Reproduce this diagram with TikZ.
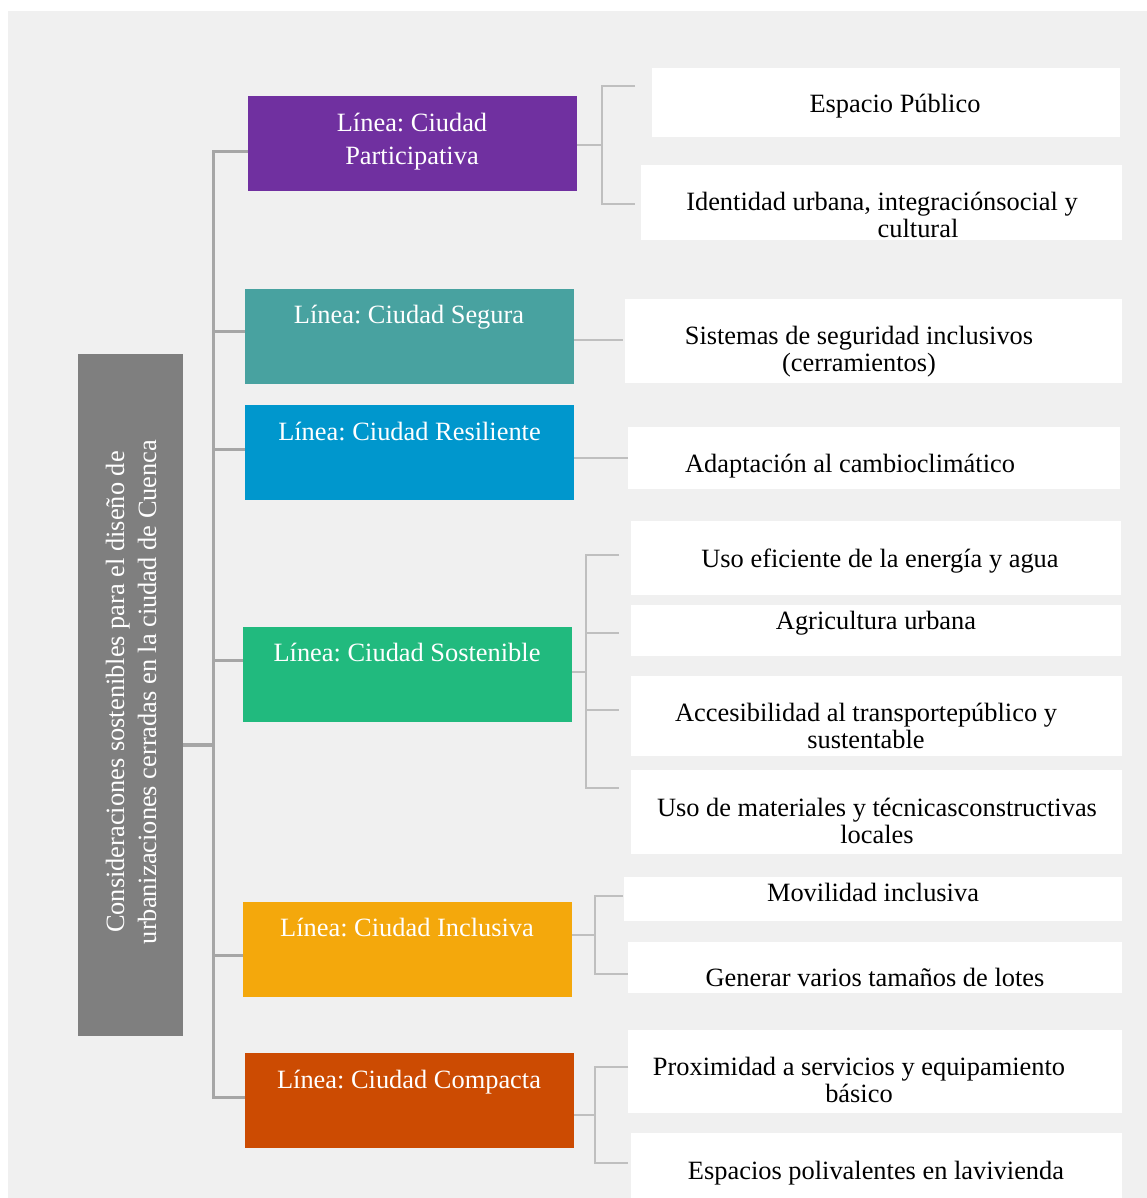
\documentclass[tikz,border=0pt]{standalone}
\usepackage{fontspec}
\setmainfont{Liberation Serif}
\usetikzlibrary{positioning}
\frenchspacing
\definecolor{bgGray}{HTML}{F0F0F0}
\definecolor{rootGray}{HTML}{7F7F7F}
\definecolor{cPart}{HTML}{7030A0}
\definecolor{cSeg}{HTML}{48A2A0}
\definecolor{cRes}{HTML}{0097CD}
\definecolor{cSost}{HTML}{21BA7E}
\definecolor{cIncl}{HTML}{F4A80C}
\definecolor{cComp}{HTML}{CC4B02}
\definecolor{lineDark}{HTML}{A6A6A6}
\definecolor{lineLight}{HTML}{BFBFBF}
\tikzset{
branch/.style={fill=#1, inner sep=0pt, minimum width=329pt, minimum height=95pt},
leaf/.style 2 args={fill=white, inner sep=0pt, minimum width=#1, minimum height=#2},
btxt/.style={text=white, align=center, inner sep=0pt, font=\fontsize{26.4}{33}\selectfont},
ltxt/.style={text=black, align=center, inner sep=0pt, font=\fontsize{26.4}{27}\selectfont},
trunk/.style={draw=lineDark, line width=3pt},
twig/.style={draw=lineLight, line width=2.5pt},
rootln/.style={draw=lineDark, line width=4pt}
}
\begin{document}
\begin{tikzpicture}[x=1pt,y=-1pt]
\useasboundingbox (0,0) rectangle (1147,1198);
\fill[bgGray] (8,11) rectangle (1147,1198);

\node[fill=rootGray, inner sep=0pt, minimum width=105pt, minimum height=682pt] (root) at (130.5,695) {};
\node[rotate=90, text=white, align=center, inner sep=0pt, font=\fontsize{26.4}{32}\selectfont] (rootT) at (131,692)
  {Consideraciones sostenibles para el diseño de\\urbanizaciones cerradas en la ciudad de Cuenca};

\node[branch=cPart] (part) at (412.5,144) {};
\node[branch=cSeg] (seg) at (409.5,336.5) {};
\node[branch=cRes] (res) at (409.5,452.5) {};
\node[branch=cSost] (sost) at (407.5,674.5) {};
\node[branch=cIncl] (incl) at (407.5,949.5) {};
\node[branch=cComp] (comp) at (409.5,1100.5) {};
\node[btxt] (partT) at (412,142) {Línea: Ciudad\\Participativa};
\node[btxt] (segT) at (409,317) {Línea: Ciudad Segura};
\node[btxt] (resT) at (409.5,432) {Línea: Ciudad Resiliente};
\node[btxt] (sostT) at (407,653) {Línea: Ciudad Sostenible};
\node[btxt] (inclT) at (407,927) {Línea: Ciudad Inclusiva};
\node[btxt] (compT) at (409,1082) {Línea: Ciudad Compacta};

\node[leaf={468pt}{69pt}] (esp) at (886,102.5) {};
\node[leaf={481pt}{75pt}] (ident) at (881.5,202.5) {};
\node[leaf={497pt}{84pt}] (sist) at (873.5,341) {};
\node[leaf={492pt}{62pt}] (adapt) at (874,458) {};
\node[leaf={490pt}{74pt}] (uso) at (876,558) {};
\node[leaf={490pt}{51pt}] (agri) at (876,630.5) {};
\node[leaf={491pt}{80pt}] (acces) at (876.5,716) {};
\node[leaf={491pt}{84pt}] (mater) at (876.5,812) {};
\node[leaf={498pt}{44pt}] (movil) at (873,899) {};
\node[leaf={494pt}{51pt}] (gener) at (875,967.5) {};
\node[leaf={494pt}{83pt}] (proxi) at (875,1071.5) {};
\node[leaf={491pt}{65pt}] (espac) at (876.5,1165.5) {};

\node[ltxt] (espT) at (895,106) {Espacio Público};
\node[ltxt] (identT) at (882,215) {Identidad urbana, integraciónsocial y\\\hspace*{72pt}cultural};
\node[ltxt] (sistT) at (859,352) {Sistemas de seguridad inclusivos\\(cerramientos)};
\node[ltxt] (adaptT) at (850,466) {Adaptación al cambioclimático};
\node[ltxt] (usoT) at (880,561) {Uso eficiente de la energía y agua};
\node[ltxt] (agriT) at (876,623) {Agricultura urbana};
\node[ltxt] (accesT) at (866,726) {Accesibilidad al transportepúblico y\\sustentable};
\node[ltxt] (materT) at (877,821) {Uso de materiales y técnicasconstructivas\\locales};
\node[ltxt] (movilT) at (873,892) {Movilidad inclusiva};
\node[ltxt] (generT) at (875,977) {Generar varios tamaños de lotes};
\node[ltxt] (proxiT) at (859,1080) {Proximidad a servicios y equipamiento\\básico};
\node[ltxt] (espacT) at (876,1173) {Espacios polivalentes en lavivienda};

\coordinate (j1) at (213,152);
\coordinate (j2) at (213,331);
\coordinate (j3) at (213,449);
\coordinate (j4) at (213,660);
\coordinate (j5) at (213,955);
\coordinate (j6) at (213,1097);
\coordinate (jr) at (213,745);
\draw[trunk] (part.west |- j1) -- (j1) -- (j6) -- (comp.west |- j6);
\foreach \n/\j in {seg/j2,res/j3,sost/j4,incl/j5}
  \draw[trunk] (\j) -- (\n.west |- \j);
\draw[rootln] (root.east |- jr) -- (jr);

\coordinate (pb) at (602,145);
\coordinate (ps1) at (635,86);
\coordinate (ps2) at (635,204);
\draw[twig] (part.east |- pb) -- (pb);
\draw[twig] (ps1) -- (ps1 -| pb) -- (ps2 -| pb) -- (ps2);

\coordinate (sj) at (623,340);
\draw[twig] (seg.east |- sj) -- (sj);
\coordinate (rj) at (628,458);
\draw[twig] (res.east |- rj) -- (rj);

\coordinate (sb) at (586,672);
\draw[twig] (sost.east |- sb) -- (sb);
\foreach \y [count=\i] in {555,633,710,788}
  \coordinate (ss\i) at (619,\y);
\draw[twig] (ss1) -- (ss1 -| sb) -- (ss4 -| sb) -- (ss4);
\draw[twig] (ss2 -| sb) -- (ss2);
\draw[twig] (ss3 -| sb) -- (ss3);

\coordinate (ib) at (595,935);
\coordinate (is1) at (623,896);
\coordinate (is2) at (628,974);
\draw[twig] (incl.east |- ib) -- (ib);
\draw[twig] (is1) -- (is1 -| ib) -- (is2 -| ib) -- (is2);

\coordinate (cb) at (595,1115);
\coordinate (cs1) at (628,1067);
\coordinate (cs2) at (628,1163);
\draw[twig] (comp.east |- cb) -- (cb);
\draw[twig] (cs1) -- (cs1 -| cb) -- (cs2 -| cb) -- (cs2);
\end{tikzpicture}
\end{document}
